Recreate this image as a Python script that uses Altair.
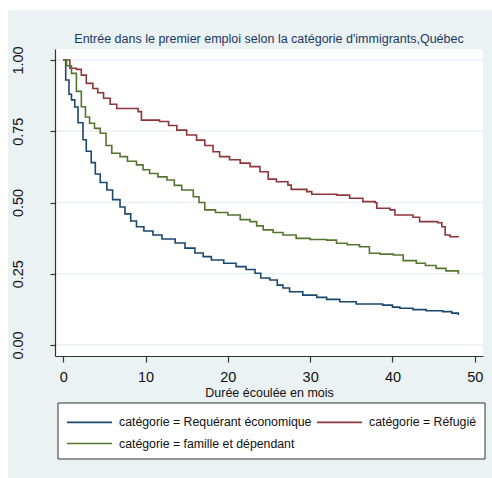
import altair as alt
import pandas as pd

# ---- data ----
cat_eco = "catégorie = Requérant économique"
cat_ref = "catégorie = Réfugié"
cat_fam = "catégorie = famille et dépendant"

eco_t = [0, 0.3, 0.7, 1.0, 1.4, 1.8, 2.4, 2.8, 3.4, 3.9, 4.5, 5.3, 6.0, 6.9, 7.5, 8.2, 8.9, 9.8,
         10.9, 12.0, 13.6, 14.8, 16.0, 17.0, 18.0, 19.5, 21.0, 22.2, 23.3, 24.0, 25.1, 26.0, 26.7,
         27.5, 29.1, 30.8, 32.0, 33.6, 35.6, 38.8, 40.0, 40.9, 42.5, 44.1, 46.1, 47.2, 48]
eco_s = [1.0, 0.93, 0.88, 0.86, 0.835, 0.78, 0.72, 0.68, 0.64, 0.60, 0.57, 0.544, 0.51, 0.484,
         0.46, 0.435, 0.415, 0.40, 0.386, 0.372, 0.358, 0.34, 0.323, 0.31, 0.298, 0.287, 0.275,
         0.265, 0.252, 0.235, 0.228, 0.21, 0.2, 0.187, 0.175, 0.167, 0.16, 0.152, 0.144, 0.14,
         0.133, 0.129, 0.124, 0.12, 0.117, 0.112, 0.105]

ref_t = [0, 0.8, 1.6, 2.2, 2.8, 3.6, 4.2, 4.9, 5.7, 6.5, 9.1, 9.5, 11.7, 12.8, 13.8, 15.0, 16.2,
         17.2, 18.2, 19.0, 20.2, 21.5, 22.7, 23.9, 24.9, 25.9, 27.3, 27.7, 29.6, 30.2, 33.2, 34.8,
         36.4, 37.9, 38.1, 39.7, 40.3, 42.5, 43.3, 45.5, 46.0, 46.4, 47.0, 48]
ref_s = [1.0, 0.971, 0.967, 0.947, 0.918, 0.90, 0.885, 0.866, 0.845, 0.83, 0.819, 0.789, 0.784,
         0.77, 0.754, 0.737, 0.719, 0.70, 0.678, 0.661, 0.65, 0.638, 0.626, 0.608, 0.582, 0.573,
         0.561, 0.546, 0.538, 0.529, 0.526, 0.515, 0.503, 0.499, 0.48, 0.474, 0.456, 0.448, 0.433,
         0.429, 0.415, 0.386, 0.38, 0.378]

fam_t = [0, 0.4, 1.0, 1.6, 2.2, 2.7, 3.2, 3.8, 4.5, 5.2, 5.9, 6.9, 7.8, 8.9, 9.7, 10.5, 11.5,
         12.6, 13.5, 14.4, 15.8, 16.5, 17.2, 18.5, 20.0, 21.5, 22.7, 23.5, 24.3, 25.5, 26.7, 28.3,
         30.0, 32.0, 33.2, 34.5, 36.0, 37.2, 38.5, 40.1, 41.3, 42.9, 44.0, 45.3, 46.5, 48]
fam_s = [1.0, 0.98, 0.953, 0.89, 0.836, 0.80, 0.778, 0.76, 0.743, 0.70, 0.673, 0.661, 0.645,
         0.632, 0.615, 0.602, 0.59, 0.579, 0.56, 0.544, 0.52, 0.50, 0.474, 0.465, 0.456, 0.44,
         0.433, 0.418, 0.404, 0.395, 0.386, 0.374, 0.37, 0.368, 0.357, 0.352, 0.345, 0.322, 0.319,
         0.316, 0.296, 0.287, 0.279, 0.269, 0.26, 0.249]

y_ticks = [0, 0.25, 0.5, 0.75, 1.0]
x_ticks = [0, 10, 20, 30, 40, 50]
title_text = "Entrée dans le premier emploi selon la catégorie d'immigrants,Québec"
x_title = "Durée écoulée en mois"

# ---- build table ----
rows = []
for name, ts, ss, order in [(cat_eco, eco_t, eco_s, 0), (cat_ref, ref_t, ref_s, 1), (cat_fam, fam_t, fam_s, 2)]:
    for t, s in zip(ts, ss):
        rows.append({"t": t, "s": s, "cat": name, "o": order})
df = pd.DataFrame(rows)
grid_df = pd.DataFrame({"s": y_ticks})

W, H = 428, 307
FONT = "Liberation Sans, Arial, sans-serif"
BG = "#EAF2F3"

xscale = alt.Scale(domain=[-1.0, 51.0], nice=False, zero=False)
yscale = alt.Scale(domain=[-0.0386, 1.0386], nice=False, zero=False)

y_axis = alt.Axis(title=None, values=y_ticks, format=".2f", grid=False, zindex=1,
                  tickSize=5, labelAngle=270, labelOverlap=False,
                  labelPadding=25, labelFontSize=14.5)

one = alt.Data(values=[{"a": 1}])

bg = alt.Chart(one).mark_rect(color=BG).encode(
    x=alt.value(-47), x2=alt.value(W + 9), y=alt.value(-39), y2=alt.value(H + 122)
)
plotbg = alt.Chart(one).mark_rect(color="white").encode(
    x=alt.value(0), x2=alt.value(W), y=alt.value(0), y2=alt.value(H)
)
grid = alt.Chart(grid_df).mark_rule(color=BG, strokeWidth=1.5).encode(
    y=alt.Y("s:Q", scale=yscale, axis=y_axis),
    x=alt.value(0), x2=alt.value(W)
)

lines = alt.Chart(df).mark_line(interpolate="step-after", strokeWidth=1.6).encode(
    x=alt.X("t:Q", scale=xscale,
            axis=alt.Axis(title=x_title, values=x_ticks, format="d", grid=False, zindex=1,
                          tickSize=6, labelPadding=8, titlePadding=3,
                          labelFontSize=14.5, titleFontSize=12.5)),
    y=alt.Y("s:Q", scale=yscale, axis=y_axis),
    color=alt.Color("cat:N",
                    scale=alt.Scale(domain=[cat_eco, cat_ref, cat_fam],
                                    range=["#1A476F", "#90353B", "#55752F"]),
                    legend=alt.Legend(title=None, orient="none", legendX=2.5, legendY=353.5,
                                      columns=2, direction="horizontal",
                                      symbolType="M-1,0H3.5", symbolSize=400,
                                      symbolStrokeWidth=1.6, symbolFillColor="transparent",
                                      labelOffset=31,
                                      columnPadding=1, rowPadding=3.5, padding=8.5,
                                      strokeColor="#333333", fillColor="white",
                                      labelFontSize=12.3, labelFont=FONT, labelColor="#111111",
                                      labelLimit=400, zindex=1)),
    order=alt.Order("t:Q"),
    detail="o:N",
)

chart = alt.layer(bg, plotbg, grid, lines).properties(
    width=W, height=H,
    padding={"left": 55, "top": 49, "right": 9, "bottom": 122},
    autosize=alt.AutoSizeParams(type="none"),
    background="white",
    title=alt.TitleParams(title_text, anchor="middle", frame="group", fontSize=12.5,
                          font=FONT, fontWeight="normal", color="#1C3766", offset=-35),
).configure_view(stroke=None, fill=None).configure_axis(
    domainColor="#333333", tickColor="#333333", labelColor="#111111",
    titleColor="#111111", labelFont=FONT, titleFont=FONT,
    titleFontWeight="normal", domainWidth=1.2, tickWidth=1.2
)

chart.save("out.html", embed_options={"renderer": "svg", "actions": False})
